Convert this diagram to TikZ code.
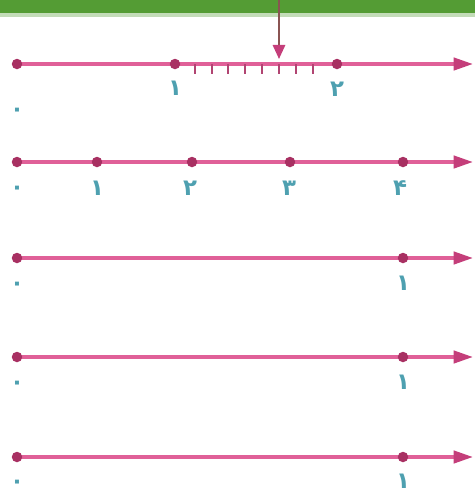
\documentclass[tikz,border=0pt]{standalone}
\usepackage{fontspec}
\newfontfamily\arabicfont[Script=Arabic]{DejaVu Sans}
\TeXXeTstate=1
\usetikzlibrary{arrows.meta}
\definecolor{linepink}{RGB}{224,96,152}
\definecolor{headpink}{RGB}{196,62,122}
\definecolor{dotpink}{RGB}{168,48,98}
\definecolor{digitteal}{RGB}{78,160,176}
\definecolor{bargreen}{RGB}{84,156,52}
\definecolor{shaftbrown}{RGB}{138,84,82}

\begin{document}
\begin{tikzpicture}[x=0.02cm,y=-0.02cm,
  numline/.style={linepink, line width=1.9pt, -{Triangle[length=11pt,width=7pt,color=headpink]}},
  ptdot/.style={circle, fill=dotpink, inner sep=0pt, minimum size=0.21cm},
  numlabel/.style={text=digitteal, font=\arabicfont\bfseries\fontsize{13}{15}\selectfont, inner sep=0pt},
  tickmark/.style={dotpink!90, line width=1.5pt},
  pointer/.style={shaftbrown, line width=1.2pt, -{Triangle[length=8pt,width=7pt,color=headpink]}}]
\useasboundingbox (0,0) rectangle (475,495);
% green band at the top
\fill[bargreen] (0,0) rectangle (475,13);
\fill[bargreen!35] (0,13) rectangle (475,17);
% first line, 1 to 2 in tenths
\coordinate (astart) at (17,64);
\coordinate (aend) at (473,64);
\draw[numline] (astart) -- (aend);
\draw[tickmark] (195,64) -- (195,74);
\draw[tickmark] (212,64) -- (212,74);
\draw[tickmark] (228,64) -- (228,74);
\draw[tickmark] (245,64) -- (245,74);
\draw[tickmark] (262,64) -- (262,74);
\draw[tickmark] (279,64) -- (279,74);
\draw[tickmark] (296,64) -- (296,74);
\draw[tickmark] (313,64) -- (313,74);
\node[ptdot] (a0) at (astart) {};
\node[ptdot] (a1) at (175,64) {};
\node[ptdot] (a2) at (337,64) {};
\node[numlabel] (la0) at (17,112) {\beginR ۰\endR};
\node[numlabel] (la1) at (175,88) {\beginR ۱\endR};
\node[numlabel] (la2) at (337,89) {\beginR ۲\endR};
\coordinate (ptop) at (279,0);
\coordinate (ptip) at (279,59);
\draw[pointer] (ptop) -- (ptip);
% second line, 0 to 4
\coordinate (bstart) at (17,162);
\coordinate (bend) at (473,162);
\draw[numline] (bstart) -- (bend);
\node[ptdot] (b0) at (bstart) {};
\node[ptdot] (b1) at (97,162) {};
\node[ptdot] (b2) at (192,162) {};
\node[ptdot] (b3) at (290,162) {};
\node[ptdot] (b4) at (403,162) {};
\node[numlabel] (lb0) at (17,190) {\beginR ۰\endR};
\node[numlabel] (lb1) at (97,188) {\beginR ۱\endR};
\node[numlabel] (lb2) at (190,188) {\beginR ۲\endR};
\node[numlabel] (lb3) at (289,188) {\beginR ۳\endR};
\node[numlabel] (lb4) at (400,188) {\beginR ۴\endR};
% third line
\coordinate (cstart) at (17,258);
\coordinate (cend) at (473,258);
\draw[numline] (cstart) -- (cend);
\node[ptdot] (c0) at (cstart) {};
\node[ptdot] (c1) at (403,258) {};
\node[numlabel] (lc0) at (17,286) {\beginR ۰\endR};
\node[numlabel] (lc1) at (403,283) {\beginR ۱\endR};
% fourth line
\coordinate (dstart) at (17,357);
\coordinate (dend) at (473,357);
\draw[numline] (dstart) -- (dend);
\node[ptdot] (d0) at (dstart) {};
\node[ptdot] (d1) at (403,357) {};
\node[numlabel] (ld0) at (17,385) {\beginR ۰\endR};
\node[numlabel] (ld1) at (403,382) {\beginR ۱\endR};
% fifth line
\coordinate (estart) at (17,457);
\coordinate (eend) at (473,457);
\draw[numline] (estart) -- (eend);
\node[ptdot] (e0) at (estart) {};
\node[ptdot] (e1) at (403,457) {};
\node[numlabel] (le0) at (17,484) {\beginR ۰\endR};
\node[numlabel] (le1) at (403,481) {\beginR ۱\endR};
\end{tikzpicture}
\end{document}
